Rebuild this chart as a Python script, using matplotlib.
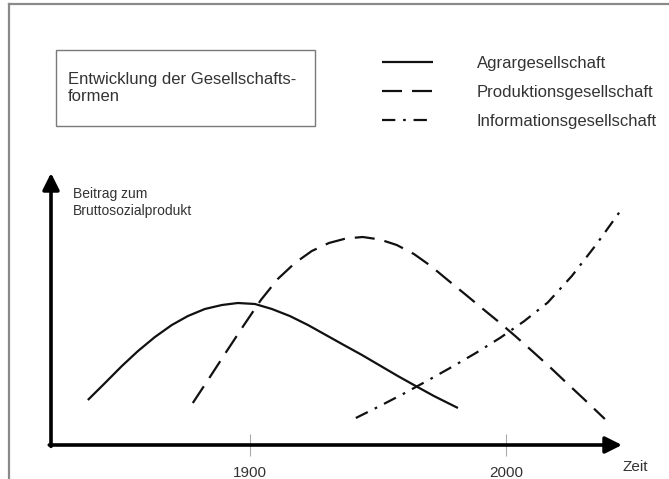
import matplotlib.pyplot as plt
from matplotlib.lines import Line2D
from matplotlib.patches import Rectangle

plt.rcParams['font.family'] = ['Liberation Sans', 'DejaVu Sans']

# values (year, contribution in arbitrary units)
agrar_year = [1836.7, 1843.4, 1850.0, 1856.3, 1862.9, 1869.5, 1875.8, 1882.4, 1889.1, 1895.3, 1902.0,
              1908.6, 1915.6, 1922.7, 1929.7, 1936.7, 1943.8, 1950.8, 1957.8, 1964.8, 1971.9, 1981.3]
agrar_val = [45, 62, 79, 94, 108, 120, 129, 136, 140, 142, 141,
             136, 129, 120, 110, 100, 90, 79.5, 69, 59, 49, 37]

prod_year = [1877.7, 1884.4, 1891.0, 1897.7, 1904.3, 1910.9, 1917.6, 1924.2, 1930.9, 1937.5, 1944.1,
             1950.8, 1957.4, 1964.1, 1970.7, 1977.3, 1984.0, 1990.6, 1997.3, 2003.9, 2010.5,
             2017.2, 2023.8, 2030.5, 2038.7]
prod_val = [42, 68, 94, 120, 145, 166, 182, 194, 202, 206.5, 208,
            205.5, 200, 191, 179, 165, 151, 137, 123, 108.5, 93.5,
            78, 62, 46, 26]

info_year = [1941.4, 1950.8, 1960.2, 1969.5, 1978.9, 1988.3, 1997.7, 2007.0, 2016.4, 2025.8, 2035.2, 2045.3]
info_val = [27, 39, 51.5, 64.5, 78, 92, 107, 123.5, 142.5, 169, 200, 236]

labels = ['Agrargesellschaft', 'Produktionsgesellschaft', 'Informationsgesellschaft']
tick_years = [1900, 2000]

W, H = 669, 479
fig = plt.figure(figsize=(W / 100, H / 100), dpi=100)

# outer grey frame (left and top only visible)
fig.add_artist(Line2D([9 / W, 9 / W], [0, 1 - 4 / H], color='#8a8a8a', lw=1.6))
fig.add_artist(Line2D([9 / W, 1], [1 - 4 / H, 1 - 4 / H], color='#8a8a8a', lw=1.6))

# title box
fig.add_artist(Rectangle((56 / W, 1 - 126 / H), (315 - 56) / W, (126 - 50) / H,
                         transform=fig.transFigure, fill=False, ec='#7a7a7a', lw=1.0))
fig.text(68 / W, 1 - 88 / H, 'Entwicklung der Gesellschafts-\nformen', fontsize=12,
         color='#333333', va='center', ha='left', linespacing=1.15)

ax = fig.add_axes([51 / W, 1 - 445 / H, (622 - 51) / W, (445 - 173) / H])
ax.set_xlim(1822.3, 2045.4)
ax.set_ylim(0, 272)

l1, = ax.plot(agrar_year, agrar_val, color='#111111', lw=1.6, solid_capstyle='butt')
l2, = ax.plot(prod_year, prod_val, color='#111111', lw=1.6, dashes=(9, 4.5))
l3, = ax.plot(info_year, info_val, color='#111111', lw=1.6, dashes=(6, 3.5, 1.2, 3.5), clip_on=False)

for s in ax.spines.values():
    s.set_visible(False)
ax.set_yticks([])
ax.set_xticks(tick_years)
ax.tick_params(axis='x', direction='inout', length=16, width=0.8, color='#aaaaaa',
               pad=7, labelsize=11, labelcolor='#333333')

arrow = dict(arrowstyle='-|>,head_length=0.5,head_width=0.25', lw=2.6, color='black',
             mutation_scale=20, shrinkA=0, shrinkB=0)
ax.annotate('', xy=(1, 0), xytext=(-0.003, 0), xycoords='axes fraction', arrowprops=arrow)
ax.annotate('', xy=(0, 1), xytext=(0, -0.005), xycoords='axes fraction', arrowprops=arrow)

fig.text(635 / W, 1 - 467 / H, 'Zeit', fontsize=11, color='#333333', ha='center', va='center')
fig.text(73 / W, 1 - 202.5 / H, 'Beitrag zum\nBruttosozialprodukt', fontsize=10,
         color='#333333', ha='left', va='center', linespacing=1.35)

ax.legend([l1, l2, l3], labels, loc='upper left', bbox_to_anchor=(382 / W, 1 - 56 / H),
          bbox_transform=fig.transFigure, frameon=False, fontsize=12, borderpad=0,
          borderaxespad=0, handlelength=3.06, handletextpad=2.64, labelspacing=0.84,
          labelcolor='#333333')

fig.savefig('out.png', dpi=100)
